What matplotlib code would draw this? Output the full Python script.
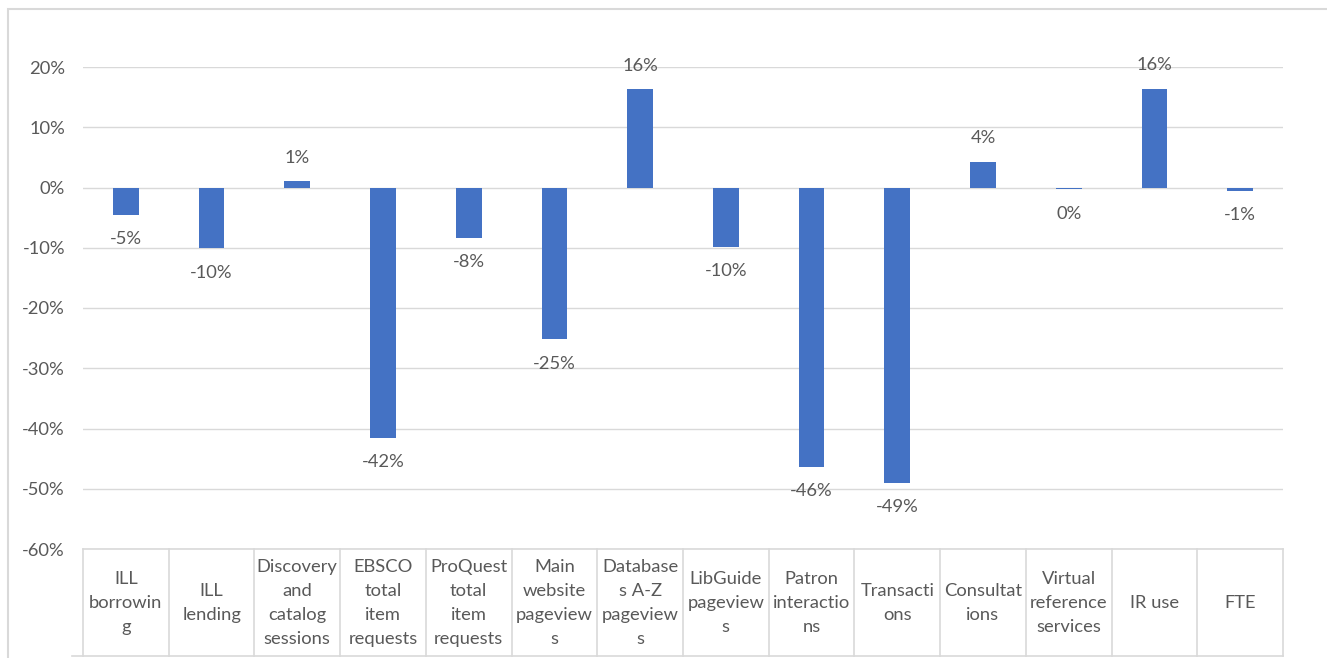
import matplotlib
matplotlib.use("Agg")
import matplotlib.pyplot as plt
from matplotlib.patches import Rectangle
import matplotlib.transforms as mtransforms

categories = ["ILL\nborrowin\ng", "ILL\nlending", "Discovery\nand\ncatalog\nsessions",
              "EBSCO\ntotal\nitem\nrequests", "ProQuest\ntotal\nitem\nrequests",
              "Main\nwebsite\npageview\ns", "Database\ns A-Z\npageview\ns",
              "LibGuide\npageview\ns", "Patron\ninteractio\nns", "Transacti\nons",
              "Consultat\nions", "Virtual\nreference\nservices", "IR use", "FTE"]
values = [-0.045, -0.101, 0.010, -0.415, -0.084, -0.252, 0.163,
          -0.098, -0.464, -0.490, 0.043, -0.003, 0.164, -0.006]
labels = ["-5%", "-10%", "1%", "-42%", "-8%", "-25%", "16%",
          "-10%", "-46%", "-49%", "4%", "0%", "16%", "-1%"]
yticks = [0.2, 0.1, 0.0, -0.1, -0.2, -0.3, -0.4, -0.5, -0.6]

W, H = 1327, 658
TXT = "#595959"
GRID = "#d9d9d9"
FS = 13.2
plt.rcParams["font.family"] = ["Lato", "DejaVu Sans"]

fig = plt.figure(figsize=(W / 100, H / 100), dpi=100)
fig.patches.append(Rectangle((8 / W, -0.1), 1.2, 1 - 9 / H + 0.1, transform=fig.transFigure,
                             fill=False, edgecolor=GRID, lw=1.5))

ax = fig.add_axes([83 / W, (H - 549) / H, 1200 / W, (549 - 67) / H])
x = range(len(values))
ax.bar(x, values, width=0.3, color="#4472C4", zorder=3)
ax.set_xlim(-0.5, len(values) - 0.5)
ax.set_ylim(-0.6, 0.2)
ax.set_yticks(yticks)
ax.set_yticklabels([f"{v * 100:.0f}%" for v in yticks])
ax.tick_params(axis="y", length=0, pad=13, labelsize=FS, labelcolor=TXT)
ax.set_xticks([])
for s in ax.spines.values():
    s.set_visible(False)
ax.grid(axis="y", color=GRID, lw=1, zorder=0)

for i, (v, lab) in enumerate(zip(values, labels)):
    off = 17 if v >= 0 else -17.5
    ax.annotate(lab, (i, v), xytext=(0, off), textcoords="offset points",
                ha="center", va="center", fontsize=FS, color=TXT, annotation_clip=False)

# category table below the plot
trans = mtransforms.blended_transform_factory(ax.transData, ax.transAxes)
ph = 549 - 67
tb = -(656 - 549) / ph
ax.plot([-0.5, len(values) - 0.5], [0, 0], transform=trans, color=GRID, lw=1.2,
        clip_on=False)
ax.plot([-0.63, len(values) - 0.5], [tb, tb], transform=trans, color=GRID,
        lw=1.2, clip_on=False)
for b in range(len(values) + 1):
    ax.plot([b - 0.5, b - 0.5], [0, tb], transform=trans, color=GRID, lw=1.2, clip_on=False)
yc = -(603 - 549) / ph
for i, c in enumerate(categories):
    ax.text(i, yc, c, transform=trans, ha="center", va="center", fontsize=FS,
            color=TXT, linespacing=1.62, multialignment="center")

fig.savefig("out.png", dpi=100, facecolor="w")
